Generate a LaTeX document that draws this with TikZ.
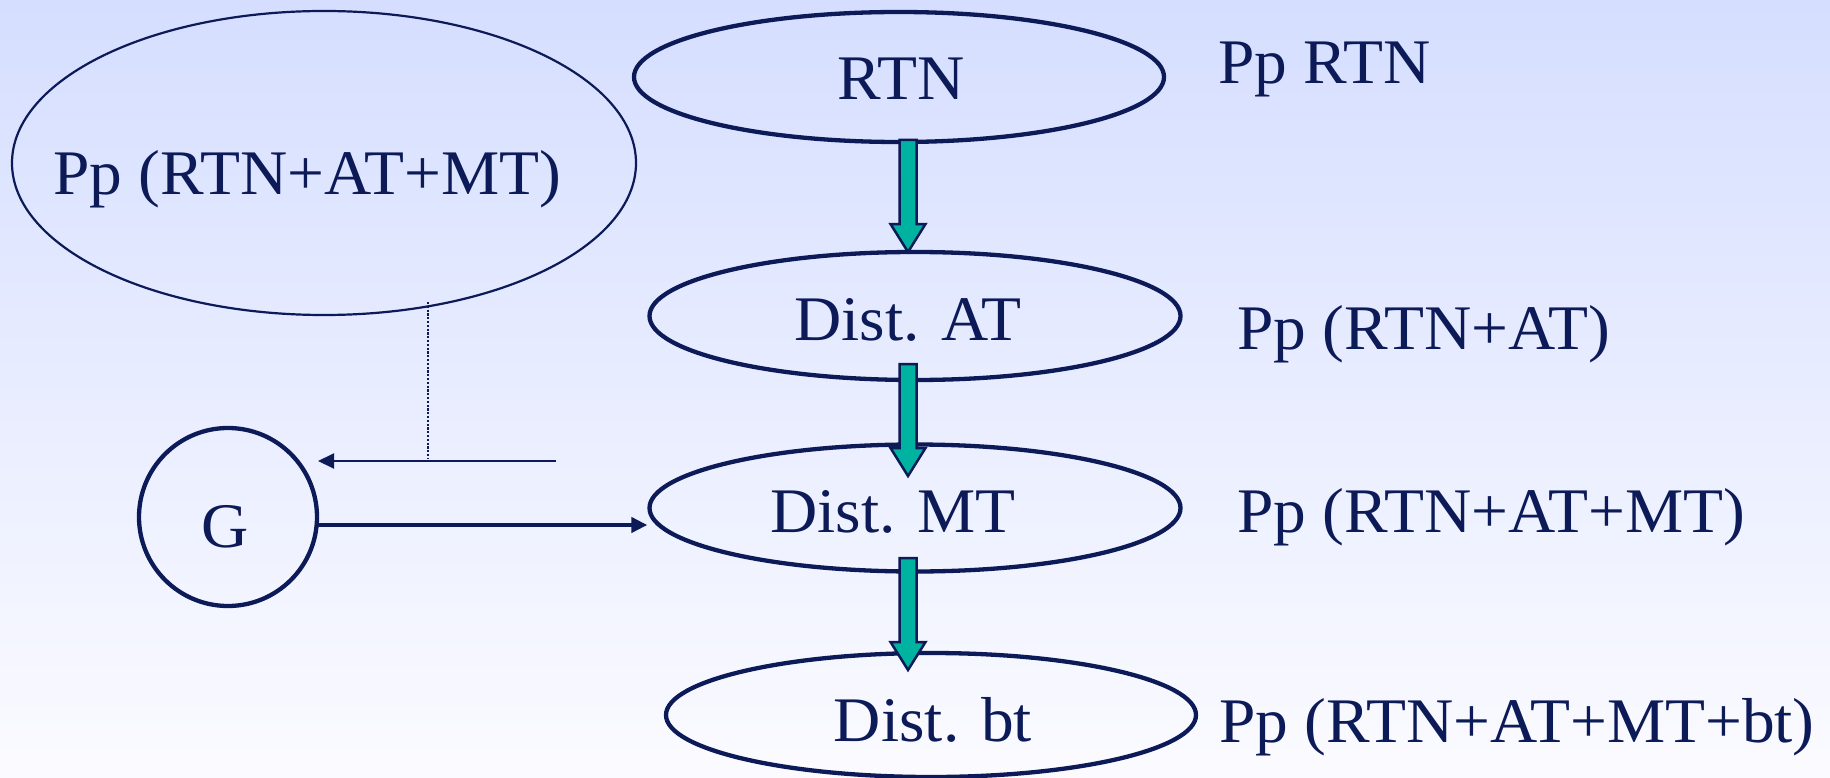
\documentclass[tikz,border=0pt]{standalone}
\usepackage{fontspec}
\setmainfont{Liberation Serif}[FakeStretch=1.03]
\usetikzlibrary{shapes.geometric,arrows.meta}
\definecolor{navy}{RGB}{12,26,88}
\definecolor{tealfill}{RGB}{0,178,160}
\definecolor{bgtop}{RGB}{213,222,255}
\definecolor{bgbot}{RGB}{251,251,255}
\tikzset{
  ell/.style={ellipse, draw=navy, line width=4.3pt, inner sep=0pt},
  thinell/.style={ellipse, draw=navy, line width=2.2pt, inner sep=0pt},
  lbl/.style={text=navy, inner sep=0pt, font=\fontsize{63.5}{70}\selectfont},
  fat/.style={draw=navy, line width=2.5pt, fill=tealfill, line join=miter},
  conn/.style={draw=navy, line width=2pt, -{Triangle[length=16pt,width=15pt]}},
  thickconn/.style={draw=navy, line width=4pt, -{Triangle[length=16pt,width=15pt]}},
  dotline/.style={draw=navy, line width=2.2pt, dash pattern=on 2.2pt off 1.6pt},
}
\newcommand\fatarr[1]{\draw[fat] (#1) ++(-8.5,0) -- ++(17,0) -- ++(0,84) -- ++(9,0) -- ++(-17.5,28) -- ++(-17.5,-28) -- ++(9,0) -- cycle;}
\begin{document}
\begin{tikzpicture}[x=1pt,y=-1pt]
\shade[top color=bgtop, bottom color=bgbot] (0,0) rectangle (1830,778);
\useasboundingbox (0,0) rectangle (1830,778);

% ellipses
\node[thinell, minimum width=624pt, minimum height=304pt] (all) at (324,163) {};
\node[ell, minimum width=530pt, minimum height=130pt] (rtn) at (899,77) {};
\node[ell, minimum width=531pt, minimum height=128pt] (at) at (915,316) {};
\node[ell, minimum width=531pt, minimum height=127pt] (mt) at (915,508) {};
\node[ell, minimum width=530pt, minimum height=124pt] (bt) at (931,715) {};
\node[circle, draw=navy, line width=4.3pt, minimum size=178pt, inner sep=0pt] (g) at (228,517) {};

% texts
\node[lbl, anchor=base] (tall) at (307,195) {Pp (RTN+AT+MT)};
\node[lbl, anchor=base] (trtn) at (901,100) {RTN};
\node[lbl, anchor=base] (tat) at (908,340) {Dist. AT};
\node[lbl, anchor=base] (tmt) at (893,532) {Dist. MT};
\node[lbl, anchor=base] (tbt) at (933,741) {Dist. bt};
\node[lbl, anchor=base] (tg) at (225,547) {G};
\node[lbl, anchor=base west] (prtn) at (1218,84) {Pp RTN};
\node[lbl, anchor=base west] (pat) at (1237,349) {Pp (RTN+AT)};
\node[lbl, anchor=base west] (pmt) at (1237,532) {Pp (RTN+AT+MT)};
\node[lbl, anchor=base west] (pbt) at (1219,742) {Pp (RTN+AT+MT+bt)};

% fat arrows
\coordinate (f1) at (908,140);
\coordinate (f2) at (908,364);
\coordinate (f3) at (908,558);
\fatarr{f1}
\fatarr{f2}
\fatarr{f3}

% connectors near G
\coordinate (fbstart) at (556,461);
\coordinate (fbend) at (318,461);
\coordinate (dottop) at (428,302);
\coordinate (dotbot) at (428,459);
\draw[dotline] (dottop) -- (dotbot);
\draw[conn] (fbstart) -- (fbend);
\coordinate (gout) at (316,525);
\draw[thickconn] (gout) -- (mt.west |- gout);
\end{tikzpicture}
\end{document}
